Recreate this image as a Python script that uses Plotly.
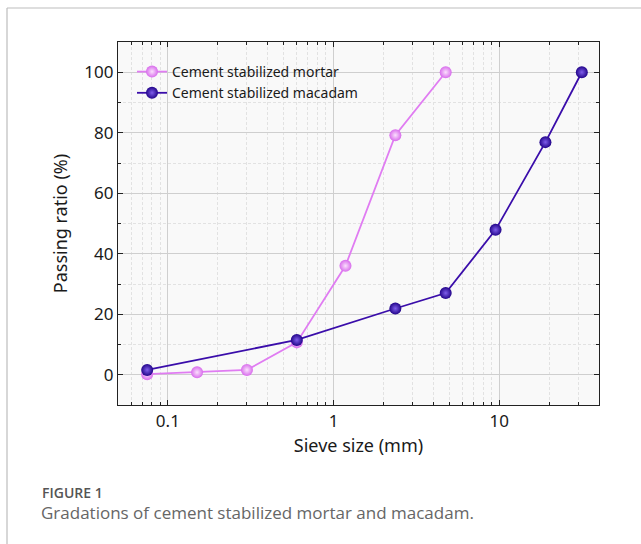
import plotly.graph_objects as go

# Data
mortar_x = [0.075, 0.15, 0.3, 0.6, 1.18, 2.36, 4.75]
mortar_y = [0.2, 0.8, 1.6, 10.7, 36.0, 79.2, 100.0]
macadam_x = [0.075, 0.6, 2.36, 4.75, 9.5, 19.0, 31.5]
macadam_y = [1.6, 11.5, 21.9, 27.0, 47.9, 76.9, 100.0]

series_names = ["Cement stabilized mortar", "Cement stabilized macadam"]
x_tickvals = [0.1, 1, 10]
x_ticktext = ["0.1", "1", "10"]
x_minor_tickvals = [0.05, 0.06, 0.07, 0.08, 0.09,
                    0.2, 0.3, 0.4, 0.5, 0.6, 0.7, 0.8, 0.9,
                    2, 3, 4, 5, 6, 7, 8, 9,
                    20, 30, 40]
y_tickvals = [0, 20, 40, 60, 80, 100]
y_minor_tickvals = [-10, 10, 30, 50, 70, 90, 110]

W, H = 641, 544
L, R, T, B = 118, 42, 42, 139
PW, PH = W - L - R, H - T - B

def px(x):
    return (x - L) / PW

def py(y):
    return (H - B - y) / PH

FONT = "Noto Sans"

fig = go.Figure()
fig.add_trace(go.Scatter(
    x=mortar_x, y=mortar_y, name=series_names[0], mode="lines+markers",
    line=dict(color="#E07CF2", width=1.8),
    marker=dict(size=12, color="#D86CEC", line=dict(width=0),
                gradient=dict(type="radial", color="#FBE0FD")),
))
fig.add_trace(go.Scatter(
    x=macadam_x, y=macadam_y, name=series_names[1], mode="lines+markers",
    line=dict(color="#3A0DAA", width=1.8),
    marker=dict(size=12, color="#22048A", line=dict(width=0),
                gradient=dict(type="radial", color="#7F5EEA")),
))

axis_common = dict(
    showline=True, linecolor="#222", linewidth=1.2, mirror="ticks",
    ticks="inside", ticklen=5, tickwidth=1.2, tickcolor="#222",
    showgrid=True, gridcolor="#CFCFCF", gridwidth=1,
    zeroline=False,
    tickfont=dict(family=FONT, size=17, color="#1a1a1a"),
)

fig.update_xaxes(
    type="log", range=[-1.301, 1.602],
    tickvals=x_tickvals, ticktext=x_ticktext,
    minor=dict(tickvals=x_minor_tickvals, ticks="inside", ticklen=3, tickcolor="#222", showgrid=True,
               gridcolor="#E2E2E2", griddash="3px,2px", gridwidth=1),
    title=dict(text="Sieve size (mm)", font=dict(family=FONT, size=18, color="#1a1a1a"), standoff=8),
    **axis_common,
)
fig.update_yaxes(
    range=[-10, 110], tickvals=y_tickvals,
    minor=dict(tickvals=y_minor_tickvals, ticks="inside", ticklen=3, tickcolor="#222", showgrid=True,
               gridcolor="#E2E2E2", griddash="3px,2px", gridwidth=1),
    title=dict(text="Passing ratio (%)", font=dict(family=FONT, size=18, color="#1a1a1a"), standoff=12),
    **axis_common,
)

fig.update_layout(
    width=W, height=H,
    margin=dict(l=L, r=R, t=T, b=B),
    paper_bgcolor="white", plot_bgcolor="#F9F9F9",
    showlegend=True,
    legend=dict(x=px(132), y=py(56), xanchor="left", yanchor="top",
                bgcolor="rgba(0,0,0,0)", borderwidth=0,
                font=dict(family=FONT, size=14, color="#1a1a1a"),
                tracegroupgap=0, itemwidth=30),
    shapes=[
        dict(type="line", xref="paper", yref="paper", x0=px(7), x1=px(W + 5), y0=py(8), y1=py(8),
             line=dict(color="#BDBDBD", width=1.2)),
        dict(type="line", xref="paper", yref="paper", x0=px(7), x1=px(7), y0=py(8), y1=py(H + 5),
             line=dict(color="#BDBDBD", width=1.2)),
    ],
    annotations=[
        dict(text="FIGURE 1", xref="paper", yref="paper", x=px(40), y=py(492),
             xanchor="left", yanchor="middle", showarrow=False,
             font=dict(family="Open Sans", size=14, color="#555555", weight=600)),
        dict(text="Gradations of cement stabilized mortar and macadam.", xref="paper", yref="paper",
             x=px(39), y=py(512), xanchor="left", yanchor="middle", showarrow=False,
             font=dict(family="Open Sans", size=17, color="#666666")),
    ],
)

fig.write_html("out.html")
